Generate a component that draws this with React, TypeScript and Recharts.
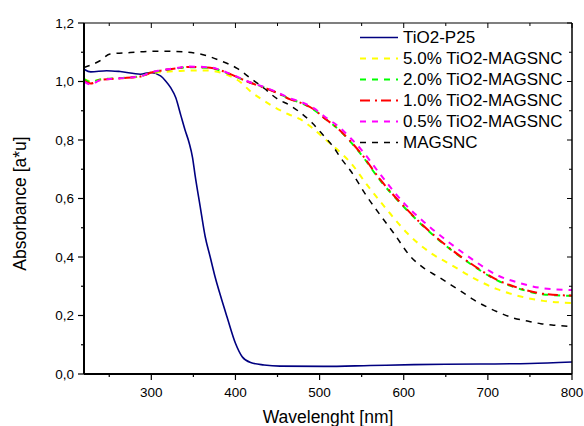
import React from 'react'
import { LineChart, Line, XAxis, YAxis, Legend } from 'recharts'

// wavelengths (nm) and absorbance
const p25Wl = [220, 228, 247, 263, 287, 299, 311, 317, 323, 329, 335, 340, 345, 349, 352, 358, 364, 370, 376, 382, 390, 400, 408, 418, 434, 453, 505, 560, 612, 691, 750, 800]
const p25Abs = [1.042, 1.033, 1.037, 1.034, 1.025, 1.031, 1.019, 1.002, 0.979, 0.945, 0.885, 0.835, 0.79, 0.74, 0.68, 0.574, 0.47, 0.4, 0.33, 0.27, 0.195, 0.105, 0.059, 0.039, 0.031, 0.027, 0.026, 0.029, 0.032, 0.034, 0.036, 0.041]

const yellowWl = [220, 229, 239, 263, 287, 299, 311, 335, 358, 370, 382, 398, 405, 418, 434, 447, 463, 477, 491, 507, 523, 537, 556, 580, 604, 632, 656, 683, 711, 739, 766, 800]
const yellowAbs = [1.008, 1.0, 1.006, 1.011, 1.017, 1.028, 1.032, 1.036, 1.038, 1.037, 1.031, 1.012, 1.0, 0.966, 0.934, 0.911, 0.888, 0.871, 0.842, 0.802, 0.762, 0.722, 0.648, 0.562, 0.482, 0.414, 0.374, 0.328, 0.29, 0.265, 0.25, 0.243]

const mixWl = [220, 228, 239, 263, 287, 299, 311, 330, 345, 370, 394, 414, 434, 449, 465, 477, 493, 507, 523, 537, 549, 572, 600, 624, 652, 679, 711, 739, 766, 800]
const greenAbs = [1.008, 0.998, 1.007, 1.012, 1.018, 1.03, 1.037, 1.045, 1.049, 1.046, 1.024, 1.0, 0.98, 0.962, 0.94, 0.928, 0.904, 0.872, 0.835, 0.793, 0.752, 0.662, 0.572, 0.503, 0.434, 0.377, 0.32, 0.29, 0.272, 0.267]
const redAbs = [1.003, 0.993, 1.005, 1.011, 1.017, 1.03, 1.037, 1.045, 1.05, 1.047, 1.025, 1.0, 0.979, 0.962, 0.939, 0.928, 0.905, 0.872, 0.836, 0.795, 0.755, 0.665, 0.574, 0.505, 0.436, 0.379, 0.322, 0.292, 0.274, 0.268]
const magentaAbs = [1.0, 0.99, 1.004, 1.011, 1.017, 1.031, 1.038, 1.046, 1.051, 1.048, 1.026, 1.001, 0.981, 0.964, 0.942, 0.931, 0.909, 0.878, 0.845, 0.806, 0.769, 0.683, 0.585, 0.52, 0.454, 0.397, 0.338, 0.31, 0.293, 0.287]

const magsncWl = [220, 239, 251, 275, 300, 326, 358, 382, 402, 418, 434, 449, 465, 477, 491, 505, 517, 525, 537, 556, 576, 588, 608, 624, 640, 656, 671, 683, 699, 715, 731, 747, 763, 778, 800]
const magsncAbs = [1.048, 1.071, 1.094, 1.099, 1.103, 1.103, 1.094, 1.071, 1.045, 1.011, 0.977, 0.942, 0.918, 0.894, 0.859, 0.814, 0.774, 0.739, 0.694, 0.608, 0.528, 0.482, 0.402, 0.362, 0.334, 0.305, 0.277, 0.254, 0.229, 0.208, 0.191, 0.181, 0.172, 0.167, 0.162]

const xTicks = [250, 300, 350, 400, 450, 500, 550, 600, 650, 700, 750, 800]
const yTicks = [0, 0.1, 0.2, 0.3, 0.4, 0.5, 0.6, 0.7, 0.8, 0.9, 1.0, 1.1, 1.2]

const pts = (wl: number[], abs: number[]) => wl.map((w, i) => ({ wl: w, a: abs[i] }))

const series = [
  { name: 'TiO2-P25', color: '#000080', dash: undefined, width: 1.6, data: pts(p25Wl, p25Abs) },
  { name: '5.0% TiO2-MAGSNC', color: '#ffff00', dash: '6 6', width: 2, data: pts(yellowWl, yellowAbs) },
  { name: '2.0% TiO2-MAGSNC', color: '#00ff00', dash: '6 6', width: 2, data: pts(mixWl, greenAbs) },
  { name: '1.0% TiO2-MAGSNC', color: '#ff0000', dash: '10 5 2 4', width: 2, data: pts(mixWl, redAbs) },
  { name: '0.5% TiO2-MAGSNC', color: '#ff00ff', dash: '6 6', width: 2, data: pts(mixWl, magentaAbs) },
  { name: 'MAGSNC', color: '#000000', dash: '6 6', width: 1.5, data: pts(magsncWl, magsncAbs) },
]

const isMajorX = (v: number) => v % 100 === 0
const isMajorY = (v: number) => Math.round(v * 10) % 2 === 0

const BottomTick = (props: any) => {
  const { x, y, payload } = props
  const major = isMajorX(payload.value)
  return (
    <g>
      <line x1={x} x2={x} y1={y} y2={y + (major ? 6 : 3)} stroke="#000" strokeWidth={1.2} />
      {major && (
        <text x={x} y={y + 22.5} textAnchor="middle" fontSize={13.5} fill="#000">
          {payload.value}
        </text>
      )}
    </g>
  )
}

const LeftTick = (props: any) => {
  const { x, y, payload } = props
  const major = isMajorY(payload.value)
  return (
    <g>
      <line x1={x - (major ? 6 : 3)} x2={x} y1={y} y2={y} stroke="#000" strokeWidth={1.2} />
      {major && (
        <text x={x - 10} y={y + 4.8} textAnchor="end" fontSize={13.5} fill="#000">
          {payload.value.toFixed(1).replace('.', ',')}
        </text>
      )}
    </g>
  )
}

const TopTick = (props: any) => {
  const { x, y, payload } = props
  return <line x1={x} x2={x} y1={y} y2={y + (isMajorX(payload.value) ? 5 : 3)} stroke="#000" strokeWidth={1} />
}

const RightTick = (props: any) => {
  const { x, y, payload } = props
  return <line x1={x - (isMajorY(payload.value) ? 5 : 3)} x2={x} y1={y} y2={y} stroke="#000" strokeWidth={1} />
}

const XTitle = (props: any) => {
  const { viewBox } = props
  return (
    <text x={viewBox.x + viewBox.width / 2} y={viewBox.y + 49} textAnchor="middle" fontSize={17.5} fill="#000">
      Wavelenght [nm]
    </text>
  )
}

const YTitle = (props: any) => {
  const { viewBox } = props
  const x = 26
  const y = viewBox.y + viewBox.height / 2 + 5
  return (
    <text x={x} y={y} transform={`rotate(-90, ${x}, ${y})`} textAnchor="middle" fontSize={17.5} fill="#000">
      Absorbance [a*u]
    </text>
  )
}

const LegendBox = () => (
  <div style={{ fontSize: 17, lineHeight: '21px', color: '#000' }}>
    {series.map((s) => (
      <div key={s.name} style={{ display: 'flex', alignItems: 'center', height: 21, whiteSpace: 'nowrap' }}>
        <svg width={42} height={21}>
          <line x1={2} x2={40} y1={10.5} y2={10.5} stroke={s.color} strokeWidth={s.width} strokeDasharray={s.dash} />
        </svg>
        <span style={{ marginLeft: 3 }}>{s.name}</span>
      </div>
    ))}
  </div>
)

export default function App() {
  return (
    <div style={{ position: 'absolute', left: 0, top: 0, fontFamily: '"Liberation Sans", Arial, sans-serif' }}>
      <LineChart width={584} height={426} margin={{ top: 0, right: 0, left: 0, bottom: 0 }}>
        <XAxis
          xAxisId="bottom"
          dataKey="wl"
          type="number"
          domain={[220, 800]}
          allowDataOverflow
          ticks={xTicks}
          interval={0}
          height={52}
          tickSize={0}
          tickMargin={0}
          tickLine={false}
          tick={<BottomTick />}
          axisLine={{ stroke: '#000', strokeWidth: 2 }}
          label={<XTitle />}
        />
        <XAxis
          xAxisId="top"
          orientation="top"
          dataKey="wl"
          type="number"
          domain={[220, 800]}
          allowDataOverflow
          ticks={xTicks}
          interval={0}
          height={23}
          tickSize={0}
          tickMargin={0}
          tickLine={false}
          tick={<TopTick />}
          axisLine={{ stroke: '#000', strokeWidth: 1.2 }}
        />
        <YAxis
          yAxisId="left"
          type="number"
          domain={[0, 1.2]}
          allowDataOverflow
          ticks={yTicks}
          interval={0}
          width={84}
          tickSize={0}
          tickMargin={0}
          tickLine={false}
          tick={<LeftTick />}
          axisLine={{ stroke: '#000', strokeWidth: 2 }}
          label={<YTitle />}
        />
        <YAxis
          yAxisId="right"
          orientation="right"
          type="number"
          domain={[0, 1.2]}
          allowDataOverflow
          ticks={yTicks}
          interval={0}
          width={12}
          tickSize={0}
          tickMargin={0}
          tickLine={false}
          tick={<RightTick />}
          axisLine={{ stroke: '#000', strokeWidth: 1.5 }}
        />
        <Legend
          layout="vertical"
          align="center"
          verticalAlign="middle"
          content={<LegendBox />}
          wrapperStyle={{ left: 358, top: 27, width: 226, height: 130 }}
        />
        {series.map((s) => (
          <Line
            key={s.name}
            xAxisId="bottom"
            yAxisId="left"
            data={s.data}
            dataKey="a"
            name={s.name}
            type="monotone"
            stroke={s.color}
            strokeWidth={s.width}
            strokeDasharray={s.dash}
            dot={false}
            activeDot={false}
            isAnimationActive={false}
          />
        ))}
        {/* invisible twins so the frame axes get a domain */}
        <Line
          xAxisId="top"
          yAxisId="right"
          data={series[0].data}
          dataKey="a"
          stroke="none"
          dot={false}
          activeDot={false}
          legendType="none"
          isAnimationActive={false}
        />
      </LineChart>
    </div>
  )
}
